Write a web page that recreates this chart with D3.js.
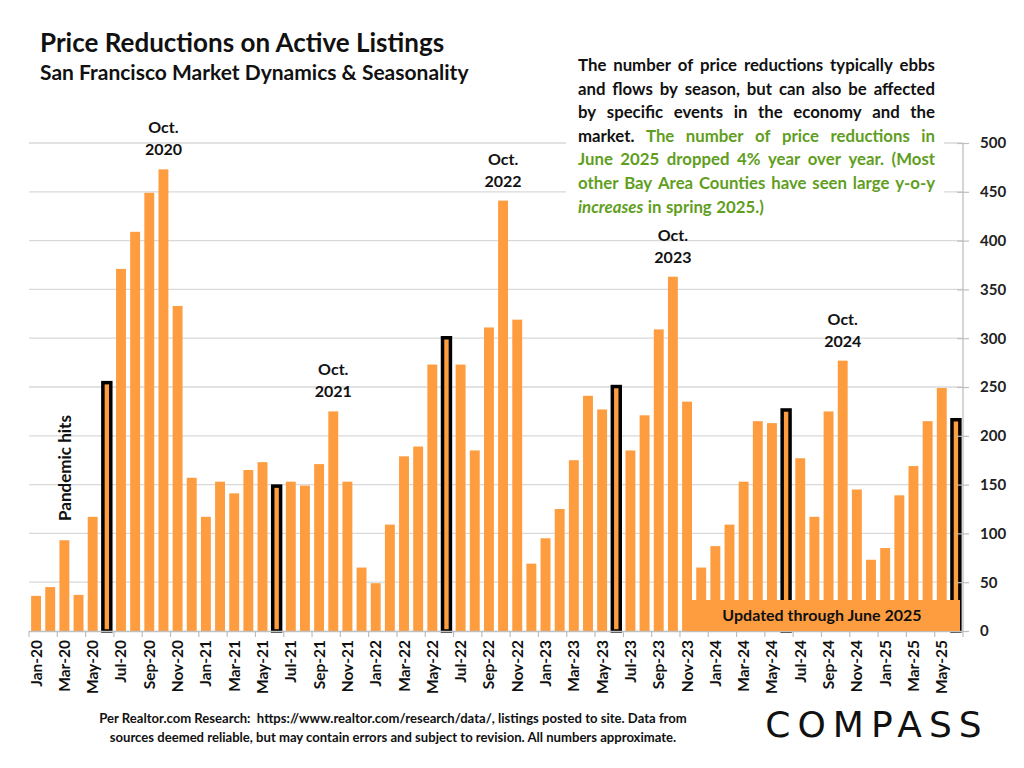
<!DOCTYPE html>
<html><head><meta charset="utf-8">
<script src="https://cdn.jsdelivr.net/npm/d3@7"></script>
<style>body{margin:0;background:#fff}svg{display:block}</style>
</head><body>
<svg id="c" width="1024" height="768"></svg>
<script>
const months = ["Jan","Feb","Mar","Apr","May","Jun","Jul","Aug","Sep","Oct","Nov","Dec"];
const categories = [];
for (let yr = 20; yr <= 25; yr++) for (let m = 0; m < 12; m++) { if (yr === 25 && m > 5) break; categories.push(months[m] + "-" + yr); }
const values = [
  36,45,93,37,117,256,371,409,449,473,333,157,
  117,153,141,165,173,150,153,149,171,225,153,65,
  49,109,179,189,273,302,273,185,311,441,319,69,
  95,125,175,241,227,252,185,221,309,363,235,65,
  87,109,153,215,213,228,177,117,225,277,145,73,
  85,139,169,215,249,218
];
const yTicks = [0,50,100,150,200,250,300,350,400,450,500];
const annotations = [
  {cat:"Oct-20", l1:"Oct.", l2:"2020"},
  {cat:"Oct-21", l1:"Oct.", l2:"2021"},
  {cat:"Oct-22", l1:"Oct.", l2:"2022"},
  {cat:"Oct-23", l1:"Oct.", l2:"2023"},
  {cat:"Oct-24", l1:"Oct.", l2:"2024"}
];

const FONT = "Lato, 'Open Sans', sans-serif";
const ORANGE = "#FD9D40", GREEN = "#5F9E1E";
const svg = d3.select("#c");
const pLeft = 29, pRight = 963, pTop = 143, pBottom = 631;
const x = d3.scaleBand().domain(categories).range([pLeft, pRight]).paddingInner(0.3).paddingOuter(0.15);
const y = d3.scaleLinear().domain([0, 500]).range([pBottom, pTop]);

// gridlines
svg.append("g").selectAll("line").data(yTicks.filter(d=>d>0)).join("line")
  .attr("x1", pLeft).attr("x2", pRight).attr("y1", d=>y(d)).attr("y2", d=>y(d))
  .attr("stroke", "#d9d9d9").attr("stroke-width", 1.3);

// bars
const data = categories.map((c,i)=>({c, v:values[i], jun:c.startsWith("Jun")}));
svg.append("g").selectAll("rect").data(data).join("rect")
  .attr("x", d=> d.jun ? x(d.c)+1 : x(d.c))
  .attr("width", d=> d.jun ? x.bandwidth()-2 : x.bandwidth())
  .attr("y", d=> d.jun ? y(d.v)+1.5 : y(d.v))
  .attr("height", d=> d.jun ? y(0)-y(d.v)-1.5 : y(0)-y(d.v))
  .attr("fill", ORANGE)
  .attr("stroke", d=> d.jun ? "#000" : "none")
  .attr("stroke-width", 3.5);

// x axis line and ticks
svg.append("line").attr("x1", pLeft).attr("x2", pRight).attr("y1", pBottom+0.5).attr("y2", pBottom+0.5)
  .attr("stroke", "#bfbfbf").attr("stroke-width", 1.3);
const step = x.step();
svg.append("g").selectAll("line").data(d3.range(0, 67, 2)).join("line")
  .attr("x1", i=>pLeft+i*step).attr("x2", i=>pLeft+i*step)
  .attr("y1", pBottom).attr("y2", pBottom+6).attr("stroke", "#bfbfbf").attr("stroke-width", 1.2);
// x labels
svg.append("g").selectAll("text").data(categories.filter((c,i)=>i%2===0)).join("text")
  .attr("transform", d=>`translate(${x(d)+x.bandwidth()/2+5.5},640) rotate(-90)`)
  .attr("text-anchor", "end").attr("font-family", FONT).attr("font-weight", "bold")
  .attr("font-size", 15.5).attr("fill", "#111").text(d=>d);

// right axis
const ax = d3.axisRight(y).tickValues(yTicks).tickSize(6).tickPadding(11);
const ag = svg.append("g").attr("transform", `translate(${pRight},0)`).call(ax);
ag.select(".domain").attr("stroke", "#bfbfbf").attr("stroke-width", 1.3).attr("d", `M0,${pTop}V${pBottom}`);
ag.selectAll(".tick line").attr("x1", -6).attr("x2", 6).attr("stroke", "#bfbfbf").attr("stroke-width", 1.2);
ag.selectAll(".tick text").attr("font-family", FONT).attr("font-weight", "bold").attr("font-size", 15).attr("fill", "#222");

// annotations
annotations.forEach(a=>{
  const cx = x(a.cat) + x.bandwidth()/2;
  const v = values[categories.indexOf(a.cat)];
  const ty = y(v);
  const g = svg.append("g").attr("font-family", FONT).attr("font-weight", "bold").attr("font-size", 16)
    .attr("text-anchor", "middle").attr("fill", "#111");
  g.append("text").attr("x", cx).attr("y", ty-36).text(a.l1);
  g.append("text").attr("x", cx).attr("y", ty-14).text(a.l2);
});
svg.append("text").attr("transform", "translate(71,468) rotate(-90)").attr("text-anchor", "middle")
  .attr("font-family", FONT).attr("font-weight", "bold").attr("font-size", 17).attr("fill", "#111").text("Pandemic hits");

// updated box
svg.append("rect").attr("x", 688).attr("y", 600).attr("width", 272).attr("height", 31).attr("fill", ORANGE);
svg.append("text").attr("x", 822).attr("y", 621).attr("text-anchor", "middle")
  .attr("font-family", FONT).attr("font-weight", "bold").attr("font-size", 16).attr("fill", "#111").text("Updated through June 2025");

// title
svg.append("text").attr("x", 40).attr("y", 52).attr("font-family", FONT).attr("font-weight", "bold")
  .attr("font-size", 26).attr("fill", "#111").text("Price Reductions on Active Listings");
svg.append("text").attr("x", 40).attr("y", 80).attr("font-family", FONT).attr("font-weight", "bold")
  .attr("font-size", 21).attr("fill", "#111").text("San Francisco Market Dynamics & Seasonality");

// text box (justified)
svg.append("rect").attr("x", 566).attr("y", 50).attr("width", 378).attr("height", 168).attr("fill", "#fff");
const B = "#111";
const lines = [
  [["The number of price reductions typically ebbs", B]],
  [["and flows by season, but can also be affected", B]],
  [["by specific events in the economy and the", B]],
  [["market.", B], ["The number of price reductions in", GREEN]],
  [["June 2025 dropped 4% year over year. (Most", GREEN]],
  [["other Bay Area Counties have seen large y-o-y", GREEN]],
  [["increases", GREEN, true], ["in spring 2025.)", GREEN]]
];
const tx0 = 578, tx1 = 935, ty0 = 71, lh = 23.6;
const tg = svg.append("g").attr("font-family", FONT).attr("font-weight", "bold").attr("font-size", 16.8);
lines.forEach((ln, li)=>{
  const words = [];
  ln.forEach(([s,col,it])=> s.split(" ").forEach(w=>words.push({w,col,it})));
  const nodes = words.map(o=>{
    const t = tg.append("text").attr("y", ty0+li*lh).attr("fill", o.col).attr("font-style", o.it?"italic":"normal").text(o.w);
    return {t, w: t.node().getComputedTextLength()};
  });
  const sum = d3.sum(nodes, n=>n.w);
  const last = li === lines.length-1;
  const gap = last ? 4.5 : (tx1 - tx0 - sum)/(nodes.length-1);
  let cx = tx0;
  nodes.forEach(n=>{ n.t.attr("x", cx); cx += n.w + gap; });
});

// footer
const fg = svg.append("g").attr("font-family", FONT).attr("font-weight", "bold").attr("font-size", 13.1)
  .attr("text-anchor", "middle").attr("fill", "#111");
fg.append("text").attr("x", 393).attr("y", 723).attr("xml:space","preserve").text("Per Realtor.com Research:  https://www.realtor.com/research/data/, listings posted to site. Data from");
fg.append("text").attr("x", 393).attr("y", 742).text("sources deemed reliable, but may contain errors and subject to revision. All numbers approximate.");

// logo
svg.append("text").attr("x", 877).attr("y", 737).attr("text-anchor", "middle")
  .attr("font-family", "'DejaVu Sans', sans-serif").attr("font-weight", "normal").attr("font-size", 36)
  .attr("letter-spacing", 7).attr("fill", "#111").text("COMPASS");
</script>
</body></html>
